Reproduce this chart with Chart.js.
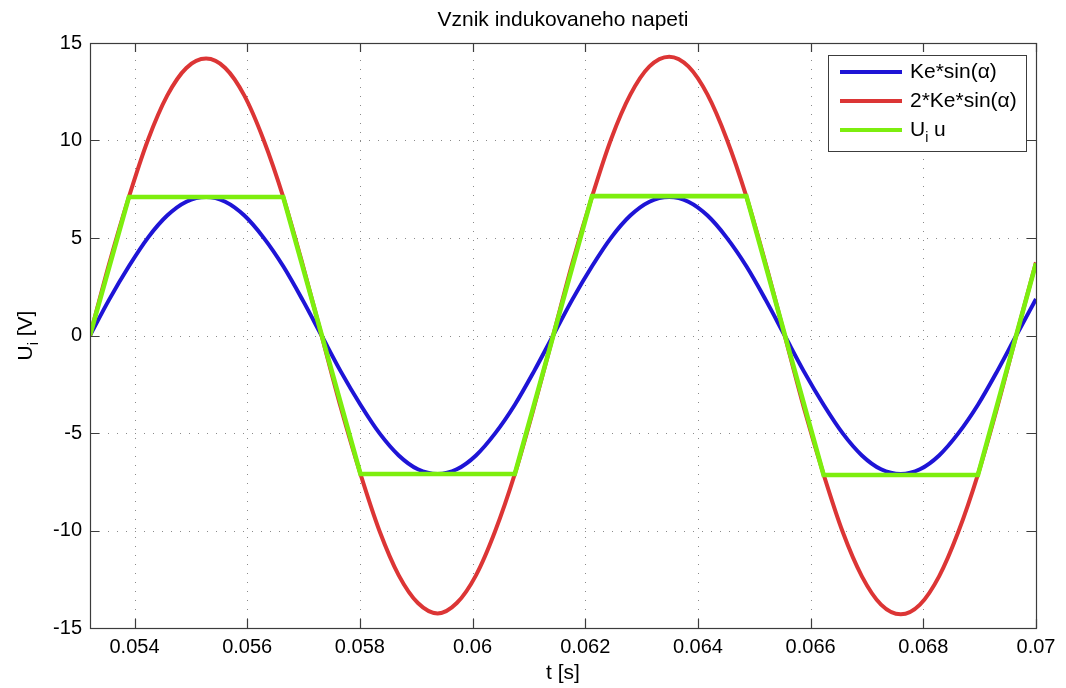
<!DOCTYPE html>
<html>
<head>
<meta charset="utf-8">
<script src="https://cdn.jsdelivr.net/npm/chart.js@4/dist/chart.umd.min.js"></script>
<style>
  body { margin: 0; background: #fff; }
</style>
</head>
<body>
<canvas id="c" width="1066" height="688"></canvas>
<script>
// values
const tSine = [
    0.05321, 0.05355, 0.05390, 0.05424, 0.05458, 0.05492, 0.05527, 0.05561,
    0.05595, 0.05629, 0.05664, 0.05698, 0.05732, 0.05766, 0.05801, 0.05835,
    0.05869, 0.05903, 0.05938, 0.05972, 0.06006, 0.06040, 0.06075, 0.06109,
    0.06143, 0.06177, 0.06212, 0.06246, 0.06280, 0.06314, 0.06349, 0.06383,
    0.06417, 0.06451, 0.06486, 0.06520, 0.06554, 0.06588, 0.06623, 0.06657,
    0.06691, 0.06725, 0.06760, 0.06794, 0.06828, 0.06862, 0.06897, 0.06931,
    0.06965, 0.07
];
const keSin = [
    0, 1.84, 3.55, 5.02, 6.15, 6.86, 7.1, 6.86, 6.15, 5.02, 3.55, 1.84,
    0, -1.84, -3.55, -5.02, -6.15, -6.86, -7.1, -6.86, -6.15, -5.02, -3.55, -1.84,
    0, 1.84, 3.55, 5.02, 6.15, 6.86, 7.1, 6.86, 6.15, 5.02, 3.55, 1.84,
    0, -1.84, -3.55, -5.02, -6.15, -6.86, -7.1, -6.86, -6.15, -5.02, -3.55, -1.84,
    0, 1.87
];
const ke2Sin = [
    0, 3.68, 7.1, 10.04, 12.3, 13.72, 14.2, 13.72, 12.3, 10.04, 7.1, 3.68,
    0, -3.68, -7.1, -10.04, -12.3, -13.72, -14.25, -13.72, -12.3, -10.04, -7.1, -3.68,
    0, 3.7, 7.12, 10.08, 12.35, 13.8, 14.3, 13.8, 12.35, 10.08, 7.12, 3.7,
    0, -3.7, -7.12, -10.08, -12.35, -13.8, -14.3, -13.8, -12.35, -10.08, -7.12, -3.7,
    0, 3.75
];
const tUiu = [0.05321, 0.05390, 0.05664, 0.05801, 0.06075, 0.06212, 0.06486, 0.06623, 0.06897, 0.07];
const uiu = [0, 7.1, 7.1, -7.1, -7.1, 7.15, 7.15, -7.15, -7.15, 3.7];

const xTicks = [0.054, 0.056, 0.058, 0.06, 0.062, 0.064, 0.066, 0.068, 0.07];
const yTicks = [-15, -10, -5, 0, 5, 10, 15];

const FONT = '"Liberation Sans", Arial, Helvetica, sans-serif';
const BLUE = '#1e14d6';
const RED = '#dc3535';
const GREEN = '#7dee0e';

function pts(xs, ys) {
    return xs.map((x, i) => ({ x: x, y: ys[i] }));
}

// MATLAB-like frame, dotted grid, inner ticks, titles and legend
const matlabLook = {
    id: 'matlabLook',
    beforeDatasetsDraw(chart) {
        const ctx = chart.ctx, a = chart.chartArea;
        const xs = chart.scales.x, ys = chart.scales.y;
        ctx.save();
        ctx.strokeStyle = '#8a8a8a';
        ctx.lineWidth = 1;
        ctx.setLineDash([1, 8]);
        xTicks.forEach(v => {
            const px = Math.round(xs.getPixelForValue(v)) + 0.5;
            ctx.beginPath(); ctx.moveTo(px, a.bottom); ctx.lineTo(px, a.top); ctx.stroke();
        });
        yTicks.forEach(v => {
            const py = Math.round(ys.getPixelForValue(v)) + 0.5;
            ctx.beginPath(); ctx.moveTo(a.left, py); ctx.lineTo(a.right, py); ctx.stroke();
        });
        ctx.restore();
    },
    afterDraw(chart) {
        const ctx = chart.ctx, a = chart.chartArea;
        const xs = chart.scales.x, ys = chart.scales.y;
        ctx.save();
        // frame and ticks
        ctx.strokeStyle = '#3c3c3c';
        ctx.lineWidth = 1.2;
        ctx.strokeRect(a.left + 0.5, a.top + 0.5, a.right - a.left, a.bottom - a.top);
        const tl = 9;
        ctx.beginPath();
        xTicks.forEach(v => {
            const px = Math.round(xs.getPixelForValue(v)) + 0.5;
            ctx.moveTo(px, a.bottom); ctx.lineTo(px, a.bottom - tl);
            ctx.moveTo(px, a.top); ctx.lineTo(px, a.top + tl);
        });
        yTicks.forEach(v => {
            const py = Math.round(ys.getPixelForValue(v)) + 0.5;
            ctx.moveTo(a.left, py); ctx.lineTo(a.left + tl, py);
            ctx.moveTo(a.right, py); ctx.lineTo(a.right - tl, py);
        });
        ctx.stroke();

        // titles
        ctx.fillStyle = '#000';
        ctx.font = '21px ' + FONT;
        ctx.textAlign = 'center';
        ctx.textBaseline = 'middle';
        const cx = (a.left + a.right) / 2;
        ctx.fillText('Vznik indukovaneho napeti', cx, 20);
        ctx.fillText('t [s]', cx, 673);

        // y title with subscript
        ctx.save();
        ctx.translate(26, (a.top + a.bottom) / 2);
        ctx.rotate(-Math.PI / 2);
        ctx.textAlign = 'left';
        ctx.font = '21px ' + FONT;
        const wU = ctx.measureText('U').width;
        ctx.font = '14px ' + FONT;
        const wi = ctx.measureText('i').width;
        ctx.font = '21px ' + FONT;
        const wR = ctx.measureText(' [V]').width;
        let x0 = -(wU + wi + wR) / 2;
        ctx.fillText('U', x0, 0);
        ctx.font = '14px ' + FONT;
        ctx.fillText('i', x0 + wU, 8);
        ctx.font = '21px ' + FONT;
        ctx.fillText(' [V]', x0 + wU + wi, 0);
        ctx.restore();

        // legend
        const lx = 828, ly = 55, lw = 198, lh = 96;
        ctx.fillStyle = '#fff';
        ctx.fillRect(lx, ly, lw, lh);
        ctx.strokeStyle = '#3c3c3c';
        ctx.lineWidth = 1;
        ctx.strokeRect(lx + 0.5, ly + 0.5, lw, lh);
        const rows = [
            { c: BLUE, y: 72, t: 'Ke*sin(α)' },
            { c: RED, y: 101, t: '2*Ke*sin(α)' },
            { c: GREEN, y: 130, t: null }
        ];
        ctx.textAlign = 'left';
        rows.forEach(r => {
            ctx.strokeStyle = r.c;
            ctx.lineWidth = 4;
            ctx.beginPath(); ctx.moveTo(840, r.y); ctx.lineTo(902, r.y); ctx.stroke();
            ctx.fillStyle = '#000';
            ctx.font = '21px ' + FONT;
            if (r.t) {
                ctx.fillText(r.t, 910, r.y);
            } else {
                ctx.fillText('U', 910, r.y);
                const w = ctx.measureText('U').width;
                ctx.font = '14px ' + FONT;
                ctx.fillText('i', 910 + w, r.y + 8);
                const w2 = ctx.measureText('i').width;
                ctx.font = '21px ' + FONT;
                ctx.fillText(' u', 910 + w + w2, r.y);
            }
        });
        ctx.restore();
    }
};

new Chart(document.getElementById('c'), {
    type: 'line',
    data: {
        datasets: [{
            label: 'Ke*sin(α)',
            data: pts(tSine, keSin),
            borderColor: BLUE,
            borderWidth: 4,
            cubicInterpolationMode: 'monotone',
            pointRadius: 0,
            fill: false,
            order: 2
        }, {
            label: '2*Ke*sin(α)',
            data: pts(tSine, ke2Sin),
            borderColor: RED,
            borderWidth: 4,
            cubicInterpolationMode: 'monotone',
            pointRadius: 0,
            fill: false,
            order: 1
        }, {
            label: 'Ui u',
            data: pts(tUiu, uiu),
            borderColor: GREEN,
            borderWidth: 4.6,
            tension: 0,
            pointRadius: 0,
            fill: false,
            order: 0
        }]
    },
    options: {
        responsive: false,
        animation: false,
        devicePixelRatio: 1,
        layout: { padding: { left: 0, right: 30, top: 43, bottom: 0 } },
        plugins: {
            legend: { display: false },
            title: { display: false },
            tooltip: { enabled: false }
        },
        scales: {
            x: {
                type: 'linear',
                min: 0.05321,
                max: 0.07,
                afterBuildTicks: s => { s.ticks = xTicks.map(v => ({ value: v })); },
                afterFit: s => { s.height = 60; },
                grid: { display: false, drawTicks: false },
                border: { display: false },
                ticks: {
                    color: '#000',
                    font: { family: FONT, size: 20 },
                    padding: 7,
                    maxRotation: 0,
                    autoSkip: false,
                    callback: v => String(Number(v.toFixed(3)))
                }
            },
            y: {
                min: -15,
                max: 15,
                afterBuildTicks: s => { s.ticks = yTicks.map(v => ({ value: v })); },
                afterFit: s => { s.width = 90; },
                grid: { display: false, drawTicks: false },
                border: { display: false },
                ticks: {
                    color: '#000',
                    font: { family: FONT, size: 20 },
                    padding: 8,
                    autoSkip: false,
                    callback: v => String(v)
                }
            }
        }
    },
    plugins: [matlabLook]
});
</script>
</body>
</html>
